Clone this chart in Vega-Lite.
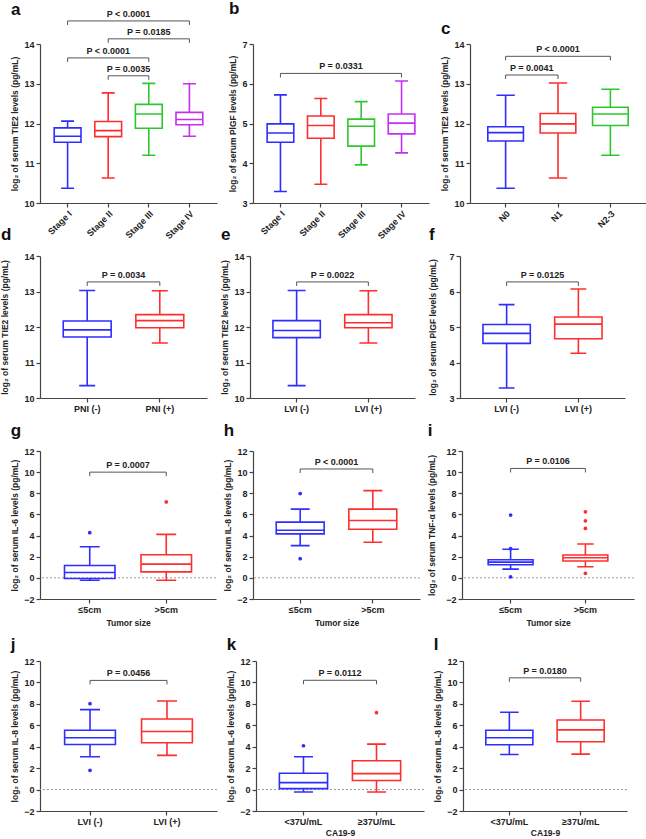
{
"$schema":"https://vega.github.io/schema/vega-lite/v6.json",
"padding":{"left":0,"top":0,"right":2,"bottom":0},
"datasets":{
"boxes":[
{"panel":"a","grp":"Stage I","min":10.37,"q1":11.53,"med":11.68,"q3":11.89,"max":12.06},
{"panel":"a","grp":"Stage II","min":10.63,"q1":11.67,"med":11.82,"q3":12.05,"max":12.77},
{"panel":"a","grp":"Stage III","min":11.2,"q1":11.88,"med":12.24,"q3":12.48,"max":13.01},
{"panel":"a","grp":"Stage IV","min":11.68,"q1":11.97,"med":12.1,"q3":12.28,"max":13.0},
{"panel":"b","grp":"Stage I","min":3.29,"q1":4.53,"med":4.76,"q3":4.99,"max":5.72},
{"panel":"b","grp":"Stage II","min":3.47,"q1":4.63,"med":4.95,"q3":5.19,"max":5.63},
{"panel":"b","grp":"Stage III","min":3.96,"q1":4.43,"med":4.93,"q3":5.11,"max":5.55},
{"panel":"b","grp":"Stage IV","min":4.26,"q1":4.74,"med":5.01,"q3":5.24,"max":6.07},
{"panel":"c","grp":"N0","min":10.37,"q1":11.56,"med":11.77,"q3":11.92,"max":12.71},
{"panel":"c","grp":"N1","min":10.63,"q1":11.76,"med":11.99,"q3":12.25,"max":13.02},
{"panel":"c","grp":"N2-3","min":11.2,"q1":11.95,"med":12.24,"q3":12.41,"max":12.86},
{"panel":"d","grp":"PNI (-)","min":10.35,"q1":11.72,"med":11.92,"q3":12.17,"max":13.03},
{"panel":"d","grp":"PNI (+)","min":11.55,"q1":11.98,"med":12.18,"q3":12.35,"max":13.02},
{"panel":"e","grp":"LVI (-)","min":10.35,"q1":11.7,"med":11.9,"q3":12.18,"max":13.03},
{"panel":"e","grp":"LVI (+)","min":11.55,"q1":11.98,"med":12.12,"q3":12.35,"max":13.02},
{"panel":"f","grp":"LVI (-)","min":3.28,"q1":4.54,"med":4.82,"q3":5.07,"max":5.63},
{"panel":"f","grp":"LVI (+)","min":4.26,"q1":4.67,"med":5.08,"q3":5.28,"max":6.07},
{"panel":"g","grp":"≤5cm","min":-0.22,"q1":-0.06,"med":0.5,"q3":1.17,"max":2.94},
{"panel":"g","grp":">5cm","min":-0.22,"q1":0.57,"med":1.3,"q3":2.18,"max":4.11},
{"panel":"h","grp":"≤5cm","min":3.05,"q1":4.16,"med":4.5,"q3":5.27,"max":6.5},
{"panel":"h","grp":">5cm","min":3.37,"q1":4.6,"med":5.43,"q3":6.5,"max":8.25},
{"panel":"i","grp":"≤5cm","min":0.83,"q1":1.24,"med":1.49,"q3":1.71,"max":2.7},
{"panel":"i","grp":">5cm","min":1.05,"q1":1.59,"med":1.9,"q3":2.16,"max":3.2},
{"panel":"j","grp":"LVI (-)","min":3.07,"q1":4.21,"med":4.83,"q3":5.54,"max":7.46},
{"panel":"j","grp":"LVI (+)","min":3.19,"q1":4.37,"med":5.42,"q3":6.59,"max":8.27},
{"panel":"k","grp":"<37U/mL","min":-0.22,"q1":0.09,"med":0.65,"q3":1.52,"max":3.07},
{"panel":"k","grp":"≥37U/mL","min":-0.22,"q1":0.84,"med":1.49,"q3":2.69,"max":4.24},
{"panel":"l","grp":"<37U/mL","min":3.28,"q1":4.18,"med":4.83,"q3":5.54,"max":7.21},
{"panel":"l","grp":"≥37U/mL","min":3.31,"q1":4.46,"med":5.57,"q3":6.5,"max":8.24}
],
"outliers":[
{"panel":"g","grp":"≤5cm","val":4.27},
{"panel":"g","grp":">5cm","val":7.18},
{"panel":"h","grp":"≤5cm","val":7.97},
{"panel":"h","grp":"≤5cm","val":1.81},
{"panel":"i","grp":"≤5cm","val":5.94},
{"panel":"i","grp":"≤5cm","val":2.76},
{"panel":"i","grp":"≤5cm","val":0.1},
{"panel":"i","grp":">5cm","val":6.25},
{"panel":"i","grp":">5cm","val":5.4},
{"panel":"i","grp":">5cm","val":4.67},
{"panel":"i","grp":">5cm","val":0.43},
{"panel":"j","grp":"LVI (-)","val":8.02},
{"panel":"j","grp":"LVI (-)","val":1.8},
{"panel":"k","grp":"<37U/mL","val":4.09},
{"panel":"k","grp":"≥37U/mL","val":7.18}
],
"brackets":[
{"panel":"a","from":"Stage I","to":"Stage IV","y":14.58,"label":"P < 0.0001"},
{"panel":"a","from":"Stage II","to":"Stage IV","y":14.13,"label":"P = 0.0185"},
{"panel":"a","from":"Stage I","to":"Stage III","y":13.65,"label":"P < 0.0001"},
{"panel":"a","from":"Stage II","to":"Stage III","y":13.2,"label":"P = 0.0035"},
{"panel":"b","from":"Stage I","to":"Stage IV","y":6.26,"label":"P = 0.0331"},
{"panel":"c","from":"N0","to":"N2-3","y":13.69,"label":"P < 0.0001"},
{"panel":"c","from":"N0","to":"N1","y":13.22,"label":"P = 0.0041"},
{"panel":"d","from":"PNI (-)","to":"PNI (+)","y":13.27,"label":"P = 0.0034"},
{"panel":"e","from":"LVI (-)","to":"LVI (+)","y":13.27,"label":"P = 0.0022"},
{"panel":"f","from":"LVI (-)","to":"LVI (+)","y":6.27,"label":"P = 0.0125"},
{"panel":"g","from":"≤5cm","to":">5cm","y":10.0,"label":"P = 0.0007"},
{"panel":"h","from":"≤5cm","to":">5cm","y":10.3,"label":"P < 0.0001"},
{"panel":"i","from":"≤5cm","to":">5cm","y":10.35,"label":"P = 0.0106"},
{"panel":"j","from":"LVI (-)","to":"LVI (+)","y":10.19,"label":"P = 0.0456"},
{"panel":"k","from":"<37U/mL","to":"≥37U/mL","y":10.2,"label":"P = 0.0112"},
{"panel":"l","from":"<37U/mL","to":"≥37U/mL","y":10.43,"label":"P = 0.0180"}
]
},
"vconcat":[
{"hconcat":[
{"width":177,"height":159,"title":{"text":"a","offset":-9},
"encoding":{"color":{"field":"grp","type":"nominal","scale":{"domain":["Stage I","Stage II","Stage III","Stage IV","N0","N1","N2-3","PNI (-)","PNI (+)","LVI (-)","LVI (+)","≤5cm",">5cm","<37U/mL","≥37U/mL"],"range":["#2e2eff","#ff2e2e","#2ec82e","#c42ef5","#2e2eff","#ff2e2e","#2ec82e","#2e2eff","#ff2e2e","#2e2eff","#ff2e2e","#2e2eff","#ff2e2e","#2e2eff","#ff2e2e"]},"legend":null}},
"layer":[
{"data":{"name":"boxes"},"transform":[{"filter":"datum.panel=='a'"}],"mark":{"type":"rule","strokeWidth":1.6},
"encoding":{"x":{"field":"grp","type":"nominal","scale":{"type":"band","domain":["Stage I","Stage II","Stage III","Stage IV"],"paddingInner":0,"paddingOuter":0.18},"axis":{"title":null,"labelAngle":-45}},
"y":{"field":"min","type":"quantitative","scale":{"domain":[10,14],"nice":false},"axis":{"title":"log₂ of serum TIE2 levels (pg/mL)","tickCount":5,"labelOverlap":false}},"y2":{"field":"q1"}}},
{"data":{"name":"boxes"},"transform":[{"filter":"datum.panel=='a'"}],"mark":{"type":"rule","strokeWidth":1.6},"encoding":{"x":{"field":"grp","type":"nominal"},"y":{"field":"q3","type":"quantitative"},"y2":{"field":"max"}}},
{"data":{"name":"boxes"},"transform":[{"filter":"datum.panel=='a'"}],"mark":{"type":"bar","filled":false,"strokeWidth":1.6,"width":{"band":0.66}},"encoding":{"x":{"field":"grp","type":"nominal"},"y":{"field":"q1","type":"quantitative"},"y2":{"field":"q3"}}},
{"data":{"name":"boxes"},"transform":[{"filter":"datum.panel=='a'"}],"mark":{"type":"bar","filled":false,"strokeWidth":1.6,"width":{"band":0.66}},"encoding":{"x":{"field":"grp","type":"nominal"},"y":{"field":"med","type":"quantitative"},"y2":{"field":"med"}}},
{"data":{"name":"boxes"},"transform":[{"filter":"datum.panel=='a'"},{"fold":["min","max"],"as":["stat","val"]}],"mark":{"type":"bar","filled":false,"strokeWidth":1.6,"width":{"band":0.32}},"encoding":{"x":{"field":"grp","type":"nominal"},"y":{"field":"val","type":"quantitative"},"y2":{"field":"val"}}},
{"data":{"name":"brackets"},"transform":[{"filter":"datum.panel=='a'"}],"mark":{"type":"rule","strokeWidth":1},"encoding":{"x":{"field":"from","type":"nominal"},"x2":{"field":"to"},"y":{"field":"y","type":"quantitative"},"color":{"value":"#555"}}},
{"data":{"name":"brackets"},"transform":[{"filter":"datum.panel=='a'"},{"fold":["from","to"],"as":["end","cat"]}],"mark":{"type":"rule","strokeWidth":1,"y2Offset":4},"encoding":{"x":{"field":"cat","type":"nominal"},"y":{"field":"y","type":"quantitative"},"y2":{"field":"y"},"color":{"value":"#555"}}},
{"data":{"name":"brackets"},"transform":[{"filter":"datum.panel=='a' && datum.from=='Stage I' && datum.to=='Stage IV'"}],"mark":{"type":"text","fontSize":9,"fontWeight":"bold","baseline":"bottom","dy":-2},"encoding":{"x":{"field":"from","type":"nominal","bandPosition":2},"y":{"field":"y","type":"quantitative"},"text":{"field":"label"},"color":{"value":"#222"}}},
{"data":{"name":"brackets"},"transform":[{"filter":"datum.panel=='a' && ((datum.from=='Stage II' && datum.to=='Stage IV') || (datum.from=='Stage I' && datum.to=='Stage III'))"}],"mark":{"type":"text","fontSize":9,"fontWeight":"bold","baseline":"bottom","dy":-2},"encoding":{"x":{"field":"from","type":"nominal","bandPosition":1.5},"y":{"field":"y","type":"quantitative"},"text":{"field":"label"},"color":{"value":"#222"}}},
{"data":{"name":"brackets"},"transform":[{"filter":"datum.panel=='a' && datum.from=='Stage II' && datum.to=='Stage III'"}],"mark":{"type":"text","fontSize":9,"fontWeight":"bold","baseline":"bottom","dy":-2},"encoding":{"x":{"field":"from","type":"nominal","bandPosition":1},"y":{"field":"y","type":"quantitative"},"text":{"field":"label"},"color":{"value":"#222"}}}
]},
{"width":176,"height":159,"title":{"text":"b","offset":22},
"encoding":{"color":{"field":"grp","type":"nominal","scale":{"domain":["Stage I","Stage II","Stage III","Stage IV","N0","N1","N2-3","PNI (-)","PNI (+)","LVI (-)","LVI (+)","≤5cm",">5cm","<37U/mL","≥37U/mL"],"range":["#2e2eff","#ff2e2e","#2ec82e","#c42ef5","#2e2eff","#ff2e2e","#2ec82e","#2e2eff","#ff2e2e","#2e2eff","#ff2e2e","#2e2eff","#ff2e2e","#2e2eff","#ff2e2e"]},"legend":null}},
"layer":[
{"data":{"name":"boxes"},"transform":[{"filter":"datum.panel=='b'"}],"mark":{"type":"rule","strokeWidth":1.6},
"encoding":{"x":{"field":"grp","type":"nominal","scale":{"type":"band","domain":["Stage I","Stage II","Stage III","Stage IV"],"paddingInner":0,"paddingOuter":0.18},"axis":{"title":null,"labelAngle":-45}},
"y":{"field":"min","type":"quantitative","scale":{"domain":[3,7],"nice":false},"axis":{"title":"log₂ of serum PlGF levels (pg/mL)","tickCount":5,"labelOverlap":false}},"y2":{"field":"q1"}}},
{"data":{"name":"boxes"},"transform":[{"filter":"datum.panel=='b'"}],"mark":{"type":"rule","strokeWidth":1.6},"encoding":{"x":{"field":"grp","type":"nominal"},"y":{"field":"q3","type":"quantitative"},"y2":{"field":"max"}}},
{"data":{"name":"boxes"},"transform":[{"filter":"datum.panel=='b'"}],"mark":{"type":"bar","filled":false,"strokeWidth":1.6,"width":{"band":0.66}},"encoding":{"x":{"field":"grp","type":"nominal"},"y":{"field":"q1","type":"quantitative"},"y2":{"field":"q3"}}},
{"data":{"name":"boxes"},"transform":[{"filter":"datum.panel=='b'"}],"mark":{"type":"bar","filled":false,"strokeWidth":1.6,"width":{"band":0.66}},"encoding":{"x":{"field":"grp","type":"nominal"},"y":{"field":"med","type":"quantitative"},"y2":{"field":"med"}}},
{"data":{"name":"boxes"},"transform":[{"filter":"datum.panel=='b'"},{"fold":["min","max"],"as":["stat","val"]}],"mark":{"type":"bar","filled":false,"strokeWidth":1.6,"width":{"band":0.32}},"encoding":{"x":{"field":"grp","type":"nominal"},"y":{"field":"val","type":"quantitative"},"y2":{"field":"val"}}},
{"data":{"name":"brackets"},"transform":[{"filter":"datum.panel=='b'"}],"mark":{"type":"rule","strokeWidth":1},"encoding":{"x":{"field":"from","type":"nominal"},"x2":{"field":"to"},"y":{"field":"y","type":"quantitative"},"color":{"value":"#555"}}},
{"data":{"name":"brackets"},"transform":[{"filter":"datum.panel=='b'"},{"fold":["from","to"],"as":["end","cat"]}],"mark":{"type":"rule","strokeWidth":1,"y2Offset":4},"encoding":{"x":{"field":"cat","type":"nominal"},"y":{"field":"y","type":"quantitative"},"y2":{"field":"y"},"color":{"value":"#555"}}},
{"data":{"name":"brackets"},"transform":[{"filter":"datum.panel=='b'"}],"mark":{"type":"text","fontSize":9,"fontWeight":"bold","baseline":"bottom","dy":-2},"encoding":{"x":{"field":"from","type":"nominal","bandPosition":2},"y":{"field":"y","type":"quantitative"},"text":{"field":"label"},"color":{"value":"#222"}}}
]},
{"width":176,"height":159,"title":{"text":"c","offset":2},
"encoding":{"color":{"field":"grp","type":"nominal","scale":{"domain":["Stage I","Stage II","Stage III","Stage IV","N0","N1","N2-3","PNI (-)","PNI (+)","LVI (-)","LVI (+)","≤5cm",">5cm","<37U/mL","≥37U/mL"],"range":["#2e2eff","#ff2e2e","#2ec82e","#c42ef5","#2e2eff","#ff2e2e","#2ec82e","#2e2eff","#ff2e2e","#2e2eff","#ff2e2e","#2e2eff","#ff2e2e","#2e2eff","#ff2e2e"]},"legend":null}},
"layer":[
{"data":{"name":"boxes"},"transform":[{"filter":"datum.panel=='c'"}],"mark":{"type":"rule","strokeWidth":1.6},
"encoding":{"x":{"field":"grp","type":"nominal","scale":{"type":"band","domain":["N0","N1","N2-3"],"paddingInner":0,"paddingOuter":0.18},"axis":{"title":null,"labelAngle":-45}},
"y":{"field":"min","type":"quantitative","scale":{"domain":[10,14],"nice":false},"axis":{"title":"log₂ of serum TIE2 levels (pg/mL)","tickCount":5,"labelOverlap":false}},"y2":{"field":"q1"}}},
{"data":{"name":"boxes"},"transform":[{"filter":"datum.panel=='c'"}],"mark":{"type":"rule","strokeWidth":1.6},"encoding":{"x":{"field":"grp","type":"nominal"},"y":{"field":"q3","type":"quantitative"},"y2":{"field":"max"}}},
{"data":{"name":"boxes"},"transform":[{"filter":"datum.panel=='c'"}],"mark":{"type":"bar","filled":false,"strokeWidth":1.6,"width":{"band":0.68}},"encoding":{"x":{"field":"grp","type":"nominal"},"y":{"field":"q1","type":"quantitative"},"y2":{"field":"q3"}}},
{"data":{"name":"boxes"},"transform":[{"filter":"datum.panel=='c'"}],"mark":{"type":"bar","filled":false,"strokeWidth":1.6,"width":{"band":0.68}},"encoding":{"x":{"field":"grp","type":"nominal"},"y":{"field":"med","type":"quantitative"},"y2":{"field":"med"}}},
{"data":{"name":"boxes"},"transform":[{"filter":"datum.panel=='c'"},{"fold":["min","max"],"as":["stat","val"]}],"mark":{"type":"bar","filled":false,"strokeWidth":1.6,"width":{"band":0.35}},"encoding":{"x":{"field":"grp","type":"nominal"},"y":{"field":"val","type":"quantitative"},"y2":{"field":"val"}}},
{"data":{"name":"brackets"},"transform":[{"filter":"datum.panel=='c'"}],"mark":{"type":"rule","strokeWidth":1},"encoding":{"x":{"field":"from","type":"nominal"},"x2":{"field":"to"},"y":{"field":"y","type":"quantitative"},"color":{"value":"#555"}}},
{"data":{"name":"brackets"},"transform":[{"filter":"datum.panel=='c'"},{"fold":["from","to"],"as":["end","cat"]}],"mark":{"type":"rule","strokeWidth":1,"y2Offset":4},"encoding":{"x":{"field":"cat","type":"nominal"},"y":{"field":"y","type":"quantitative"},"y2":{"field":"y"},"color":{"value":"#555"}}},
{"data":{"name":"brackets"},"transform":[{"filter":"datum.panel=='c' && datum.to=='N2-3'"}],"mark":{"type":"text","fontSize":9,"fontWeight":"bold","baseline":"bottom","dy":-2},"encoding":{"x":{"field":"from","type":"nominal","bandPosition":1.5},"y":{"field":"y","type":"quantitative"},"text":{"field":"label"},"color":{"value":"#222"}}},
{"data":{"name":"brackets"},"transform":[{"filter":"datum.panel=='c' && datum.to=='N1'"}],"mark":{"type":"text","fontSize":9,"fontWeight":"bold","baseline":"bottom","dy":-2},"encoding":{"x":{"field":"from","type":"nominal","bandPosition":1},"y":{"field":"y","type":"quantitative"},"text":{"field":"label"},"color":{"value":"#222"}}}
]}
],"spacing":11},
{"vconcat":[
{"hconcat":[
{"width":167,"height":142,"title":{"text":"d","offset":8},
"encoding":{"color":{"field":"grp","type":"nominal","scale":{"domain":["Stage I","Stage II","Stage III","Stage IV","N0","N1","N2-3","PNI (-)","PNI (+)","LVI (-)","LVI (+)","≤5cm",">5cm","<37U/mL","≥37U/mL"],"range":["#2e2eff","#ff2e2e","#2ec82e","#c42ef5","#2e2eff","#ff2e2e","#2ec82e","#2e2eff","#ff2e2e","#2e2eff","#ff2e2e","#2e2eff","#ff2e2e","#2e2eff","#ff2e2e"]},"legend":null}},
"layer":[
{"data":{"name":"boxes"},"transform":[{"filter":"datum.panel=='d'"}],"mark":{"type":"rule","strokeWidth":1.6},
"encoding":{"x":{"field":"grp","type":"nominal","scale":{"type":"band","domain":["PNI (-)","PNI (+)"],"paddingInner":0,"paddingOuter":0.15},"axis":{"title":null,"labelAngle":0}},
"y":{"field":"min","type":"quantitative","scale":{"domain":[10,14],"nice":false},"axis":{"title":"log₂ of serum TIE2 levels (pg/mL)","tickCount":5,"labelOverlap":false,"titlePadding":14}},"y2":{"field":"q1"}}},
{"data":{"name":"boxes"},"transform":[{"filter":"datum.panel=='d'"}],"mark":{"type":"rule","strokeWidth":1.6},"encoding":{"x":{"field":"grp","type":"nominal"},"y":{"field":"q3","type":"quantitative"},"y2":{"field":"max"}}},
{"data":{"name":"boxes"},"transform":[{"filter":"datum.panel=='d'"}],"mark":{"type":"bar","filled":false,"strokeWidth":1.6,"width":{"band":0.66}},"encoding":{"x":{"field":"grp","type":"nominal"},"y":{"field":"q1","type":"quantitative"},"y2":{"field":"q3"}}},
{"data":{"name":"boxes"},"transform":[{"filter":"datum.panel=='d'"}],"mark":{"type":"bar","filled":false,"strokeWidth":1.6,"width":{"band":0.66}},"encoding":{"x":{"field":"grp","type":"nominal"},"y":{"field":"med","type":"quantitative"},"y2":{"field":"med"}}},
{"data":{"name":"boxes"},"transform":[{"filter":"datum.panel=='d'"},{"fold":["min","max"],"as":["stat","val"]}],"mark":{"type":"bar","filled":false,"strokeWidth":1.6,"width":{"band":0.22}},"encoding":{"x":{"field":"grp","type":"nominal"},"y":{"field":"val","type":"quantitative"},"y2":{"field":"val"}}},
{"data":{"name":"brackets"},"transform":[{"filter":"datum.panel=='d'"}],"mark":{"type":"rule","strokeWidth":1},"encoding":{"x":{"field":"from","type":"nominal"},"x2":{"field":"to"},"y":{"field":"y","type":"quantitative"},"color":{"value":"#555"}}},
{"data":{"name":"brackets"},"transform":[{"filter":"datum.panel=='d'"},{"fold":["from","to"],"as":["end","cat"]}],"mark":{"type":"rule","strokeWidth":1,"y2Offset":4},"encoding":{"x":{"field":"cat","type":"nominal"},"y":{"field":"y","type":"quantitative"},"y2":{"field":"y"},"color":{"value":"#555"}}},
{"data":{"name":"brackets"},"transform":[{"filter":"datum.panel=='d'"}],"mark":{"type":"text","fontSize":9,"fontWeight":"bold","baseline":"bottom","dy":-2},"encoding":{"x":{"field":"from","type":"nominal","bandPosition":1},"y":{"field":"y","type":"quantitative"},"text":{"field":"label"},"color":{"value":"#222"}}}
]},
{"width":165,"height":142,"title":{"text":"e","offset":8},
"encoding":{"color":{"field":"grp","type":"nominal","scale":{"domain":["Stage I","Stage II","Stage III","Stage IV","N0","N1","N2-3","PNI (-)","PNI (+)","LVI (-)","LVI (+)","≤5cm",">5cm","<37U/mL","≥37U/mL"],"range":["#2e2eff","#ff2e2e","#2ec82e","#c42ef5","#2e2eff","#ff2e2e","#2ec82e","#2e2eff","#ff2e2e","#2e2eff","#ff2e2e","#2e2eff","#ff2e2e","#2e2eff","#ff2e2e"]},"legend":null}},
"layer":[
{"data":{"name":"boxes"},"transform":[{"filter":"datum.panel=='e'"}],"mark":{"type":"rule","strokeWidth":1.6},
"encoding":{"x":{"field":"grp","type":"nominal","scale":{"type":"band","domain":["LVI (-)","LVI (+)"],"paddingInner":0,"paddingOuter":0.15},"axis":{"title":null,"labelAngle":0}},
"y":{"field":"min","type":"quantitative","scale":{"domain":[10,14],"nice":false},"axis":{"title":"log₂ of serum TIE2 levels (pg/mL)","tickCount":5,"labelOverlap":false}},"y2":{"field":"q1"}}},
{"data":{"name":"boxes"},"transform":[{"filter":"datum.panel=='e'"}],"mark":{"type":"rule","strokeWidth":1.6},"encoding":{"x":{"field":"grp","type":"nominal"},"y":{"field":"q3","type":"quantitative"},"y2":{"field":"max"}}},
{"data":{"name":"boxes"},"transform":[{"filter":"datum.panel=='e'"}],"mark":{"type":"bar","filled":false,"strokeWidth":1.6,"width":{"band":0.66}},"encoding":{"x":{"field":"grp","type":"nominal"},"y":{"field":"q1","type":"quantitative"},"y2":{"field":"q3"}}},
{"data":{"name":"boxes"},"transform":[{"filter":"datum.panel=='e'"}],"mark":{"type":"bar","filled":false,"strokeWidth":1.6,"width":{"band":0.66}},"encoding":{"x":{"field":"grp","type":"nominal"},"y":{"field":"med","type":"quantitative"},"y2":{"field":"med"}}},
{"data":{"name":"boxes"},"transform":[{"filter":"datum.panel=='e'"},{"fold":["min","max"],"as":["stat","val"]}],"mark":{"type":"bar","filled":false,"strokeWidth":1.6,"width":{"band":0.25}},"encoding":{"x":{"field":"grp","type":"nominal"},"y":{"field":"val","type":"quantitative"},"y2":{"field":"val"}}},
{"data":{"name":"brackets"},"transform":[{"filter":"datum.panel=='e'"}],"mark":{"type":"rule","strokeWidth":1},"encoding":{"x":{"field":"from","type":"nominal"},"x2":{"field":"to"},"y":{"field":"y","type":"quantitative"},"color":{"value":"#555"}}},
{"data":{"name":"brackets"},"transform":[{"filter":"datum.panel=='e'"},{"fold":["from","to"],"as":["end","cat"]}],"mark":{"type":"rule","strokeWidth":1,"y2Offset":4},"encoding":{"x":{"field":"cat","type":"nominal"},"y":{"field":"y","type":"quantitative"},"y2":{"field":"y"},"color":{"value":"#555"}}},
{"data":{"name":"brackets"},"transform":[{"filter":"datum.panel=='e'"}],"mark":{"type":"text","fontSize":9,"fontWeight":"bold","baseline":"bottom","dy":-2},"encoding":{"x":{"field":"from","type":"nominal","bandPosition":1},"y":{"field":"y","type":"quantitative"},"text":{"field":"label"},"color":{"value":"#222"}}}
]},
{"width":165,"height":142,"title":{"text":"f","offset":8},
"encoding":{"color":{"field":"grp","type":"nominal","scale":{"domain":["Stage I","Stage II","Stage III","Stage IV","N0","N1","N2-3","PNI (-)","PNI (+)","LVI (-)","LVI (+)","≤5cm",">5cm","<37U/mL","≥37U/mL"],"range":["#2e2eff","#ff2e2e","#2ec82e","#c42ef5","#2e2eff","#ff2e2e","#2ec82e","#2e2eff","#ff2e2e","#2e2eff","#ff2e2e","#2e2eff","#ff2e2e","#2e2eff","#ff2e2e"]},"legend":null}},
"layer":[
{"data":{"name":"boxes"},"transform":[{"filter":"datum.panel=='f'"}],"mark":{"type":"rule","strokeWidth":1.6},
"encoding":{"x":{"field":"grp","type":"nominal","scale":{"type":"band","domain":["LVI (-)","LVI (+)"],"paddingInner":0,"paddingOuter":0.15},"axis":{"title":null,"labelAngle":0}},
"y":{"field":"min","type":"quantitative","scale":{"domain":[3,7],"nice":false},"axis":{"title":"log₂ of serum PlGF levels (pg/mL)","tickCount":5,"labelOverlap":false,"titlePadding":11}},"y2":{"field":"q1"}}},
{"data":{"name":"boxes"},"transform":[{"filter":"datum.panel=='f'"}],"mark":{"type":"rule","strokeWidth":1.6},"encoding":{"x":{"field":"grp","type":"nominal"},"y":{"field":"q3","type":"quantitative"},"y2":{"field":"max"}}},
{"data":{"name":"boxes"},"transform":[{"filter":"datum.panel=='f'"}],"mark":{"type":"bar","filled":false,"strokeWidth":1.6,"width":{"band":0.66}},"encoding":{"x":{"field":"grp","type":"nominal"},"y":{"field":"q1","type":"quantitative"},"y2":{"field":"q3"}}},
{"data":{"name":"boxes"},"transform":[{"filter":"datum.panel=='f'"}],"mark":{"type":"bar","filled":false,"strokeWidth":1.6,"width":{"band":0.66}},"encoding":{"x":{"field":"grp","type":"nominal"},"y":{"field":"med","type":"quantitative"},"y2":{"field":"med"}}},
{"data":{"name":"boxes"},"transform":[{"filter":"datum.panel=='f'"},{"fold":["min","max"],"as":["stat","val"]}],"mark":{"type":"bar","filled":false,"strokeWidth":1.6,"width":{"band":0.22}},"encoding":{"x":{"field":"grp","type":"nominal"},"y":{"field":"val","type":"quantitative"},"y2":{"field":"val"}}},
{"data":{"name":"brackets"},"transform":[{"filter":"datum.panel=='f'"}],"mark":{"type":"rule","strokeWidth":1},"encoding":{"x":{"field":"from","type":"nominal"},"x2":{"field":"to"},"y":{"field":"y","type":"quantitative"},"color":{"value":"#555"}}},
{"data":{"name":"brackets"},"transform":[{"filter":"datum.panel=='f'"},{"fold":["from","to"],"as":["end","cat"]}],"mark":{"type":"rule","strokeWidth":1,"y2Offset":4},"encoding":{"x":{"field":"cat","type":"nominal"},"y":{"field":"y","type":"quantitative"},"y2":{"field":"y"},"color":{"value":"#555"}}},
{"data":{"name":"brackets"},"transform":[{"filter":"datum.panel=='f'"}],"mark":{"type":"text","fontSize":9,"fontWeight":"bold","baseline":"bottom","dy":-2},"encoding":{"x":{"field":"from","type":"nominal","bandPosition":1},"y":{"field":"y","type":"quantitative"},"text":{"field":"label"},"color":{"value":"#222"}}}
]}
],"spacing":13},
{"hconcat":[
{"width":176,"height":148,"title":{"text":"g","offset":7.5},
"encoding":{"color":{"field":"grp","type":"nominal","scale":{"domain":["Stage I","Stage II","Stage III","Stage IV","N0","N1","N2-3","PNI (-)","PNI (+)","LVI (-)","LVI (+)","≤5cm",">5cm","<37U/mL","≥37U/mL"],"range":["#2e2eff","#ff2e2e","#2ec82e","#c42ef5","#2e2eff","#ff2e2e","#2ec82e","#2e2eff","#ff2e2e","#2e2eff","#ff2e2e","#2e2eff","#ff2e2e","#2e2eff","#ff2e2e"]},"legend":null}},
"layer":[
{"data":{"name":"brackets"},"transform":[{"filter":"datum.panel=='g'"}],"mark":{"type":"rule","strokeWidth":1,"strokeDash":[2,2]},"encoding":{"y":{"datum":0,"type":"quantitative"},"color":{"value":"#999"}}},
{"data":{"name":"boxes"},"transform":[{"filter":"datum.panel=='g'"}],"mark":{"type":"rule","strokeWidth":1.6},
"encoding":{"x":{"field":"grp","type":"nominal","scale":{"type":"band","domain":["≤5cm",">5cm"],"paddingInner":0,"paddingOuter":0.15},"axis":{"title":"Tumor size","labelAngle":0}},
"y":{"field":"min","type":"quantitative","scale":{"domain":[-2,12],"nice":false},"axis":{"title":"log₂ of serum IL-6 levels (pg/mL)","tickCount":5,"labelOverlap":false}},"y2":{"field":"q1"}}},
{"data":{"name":"boxes"},"transform":[{"filter":"datum.panel=='g'"}],"mark":{"type":"rule","strokeWidth":1.6},"encoding":{"x":{"field":"grp","type":"nominal"},"y":{"field":"q3","type":"quantitative"},"y2":{"field":"max"}}},
{"data":{"name":"boxes"},"transform":[{"filter":"datum.panel=='g'"}],"mark":{"type":"bar","filled":false,"strokeWidth":1.6,"width":{"band":0.66}},"encoding":{"x":{"field":"grp","type":"nominal"},"y":{"field":"q1","type":"quantitative"},"y2":{"field":"q3"}}},
{"data":{"name":"boxes"},"transform":[{"filter":"datum.panel=='g'"}],"mark":{"type":"bar","filled":false,"strokeWidth":1.6,"width":{"band":0.66}},"encoding":{"x":{"field":"grp","type":"nominal"},"y":{"field":"med","type":"quantitative"},"y2":{"field":"med"}}},
{"data":{"name":"boxes"},"transform":[{"filter":"datum.panel=='g'"},{"fold":["min","max"],"as":["stat","val"]}],"mark":{"type":"bar","filled":false,"strokeWidth":1.6,"width":{"band":0.26}},"encoding":{"x":{"field":"grp","type":"nominal"},"y":{"field":"val","type":"quantitative"},"y2":{"field":"val"}}},
{"data":{"name":"outliers"},"transform":[{"filter":"datum.panel=='g'"}],"mark":{"type":"circle","size":14,"opacity":1},"encoding":{"x":{"field":"grp","type":"nominal"},"y":{"field":"val","type":"quantitative"}}},
{"data":{"name":"brackets"},"transform":[{"filter":"datum.panel=='g'"}],"mark":{"type":"rule","strokeWidth":1},"encoding":{"x":{"field":"from","type":"nominal"},"x2":{"field":"to"},"y":{"field":"y","type":"quantitative"},"color":{"value":"#555"}}},
{"data":{"name":"brackets"},"transform":[{"filter":"datum.panel=='g'"},{"fold":["from","to"],"as":["end","cat"]}],"mark":{"type":"rule","strokeWidth":1,"y2Offset":4},"encoding":{"x":{"field":"cat","type":"nominal"},"y":{"field":"y","type":"quantitative"},"y2":{"field":"y"},"color":{"value":"#555"}}},
{"data":{"name":"brackets"},"transform":[{"filter":"datum.panel=='g'"}],"mark":{"type":"text","fontSize":9,"fontWeight":"bold","baseline":"bottom","dy":-2},"encoding":{"x":{"field":"from","type":"nominal","bandPosition":1},"y":{"field":"y","type":"quantitative"},"text":{"field":"label"},"color":{"value":"#222"}}}
]},
{"width":167,"height":148,"title":{"text":"h","offset":7.5},
"encoding":{"color":{"field":"grp","type":"nominal","scale":{"domain":["Stage I","Stage II","Stage III","Stage IV","N0","N1","N2-3","PNI (-)","PNI (+)","LVI (-)","LVI (+)","≤5cm",">5cm","<37U/mL","≥37U/mL"],"range":["#2e2eff","#ff2e2e","#2ec82e","#c42ef5","#2e2eff","#ff2e2e","#2ec82e","#2e2eff","#ff2e2e","#2e2eff","#ff2e2e","#2e2eff","#ff2e2e","#2e2eff","#ff2e2e"]},"legend":null}},
"layer":[
{"data":{"name":"brackets"},"transform":[{"filter":"datum.panel=='h'"}],"mark":{"type":"rule","strokeWidth":1,"strokeDash":[2,2]},"encoding":{"y":{"datum":0,"type":"quantitative"},"color":{"value":"#999"}}},
{"data":{"name":"boxes"},"transform":[{"filter":"datum.panel=='h'"}],"mark":{"type":"rule","strokeWidth":1.6},
"encoding":{"x":{"field":"grp","type":"nominal","scale":{"type":"band","domain":["≤5cm",">5cm"],"paddingInner":0,"paddingOuter":0.15},"axis":{"title":"Tumor size","labelAngle":0}},
"y":{"field":"min","type":"quantitative","scale":{"domain":[-2,12],"nice":false},"axis":{"title":"log₂ of serum IL-8 levels (pg/mL)","tickCount":5,"labelOverlap":false}},"y2":{"field":"q1"}}},
{"data":{"name":"boxes"},"transform":[{"filter":"datum.panel=='h'"}],"mark":{"type":"rule","strokeWidth":1.6},"encoding":{"x":{"field":"grp","type":"nominal"},"y":{"field":"q3","type":"quantitative"},"y2":{"field":"max"}}},
{"data":{"name":"boxes"},"transform":[{"filter":"datum.panel=='h'"}],"mark":{"type":"bar","filled":false,"strokeWidth":1.6,"width":{"band":0.66}},"encoding":{"x":{"field":"grp","type":"nominal"},"y":{"field":"q1","type":"quantitative"},"y2":{"field":"q3"}}},
{"data":{"name":"boxes"},"transform":[{"filter":"datum.panel=='h'"}],"mark":{"type":"bar","filled":false,"strokeWidth":1.6,"width":{"band":0.66}},"encoding":{"x":{"field":"grp","type":"nominal"},"y":{"field":"med","type":"quantitative"},"y2":{"field":"med"}}},
{"data":{"name":"boxes"},"transform":[{"filter":"datum.panel=='h'"},{"fold":["min","max"],"as":["stat","val"]}],"mark":{"type":"bar","filled":false,"strokeWidth":1.6,"width":{"band":0.26}},"encoding":{"x":{"field":"grp","type":"nominal"},"y":{"field":"val","type":"quantitative"},"y2":{"field":"val"}}},
{"data":{"name":"outliers"},"transform":[{"filter":"datum.panel=='h'"}],"mark":{"type":"circle","size":14,"opacity":1},"encoding":{"x":{"field":"grp","type":"nominal"},"y":{"field":"val","type":"quantitative"}}},
{"data":{"name":"brackets"},"transform":[{"filter":"datum.panel=='h'"}],"mark":{"type":"rule","strokeWidth":1},"encoding":{"x":{"field":"from","type":"nominal"},"x2":{"field":"to"},"y":{"field":"y","type":"quantitative"},"color":{"value":"#555"}}},
{"data":{"name":"brackets"},"transform":[{"filter":"datum.panel=='h'"},{"fold":["from","to"],"as":["end","cat"]}],"mark":{"type":"rule","strokeWidth":1,"y2Offset":4},"encoding":{"x":{"field":"cat","type":"nominal"},"y":{"field":"y","type":"quantitative"},"y2":{"field":"y"},"color":{"value":"#555"}}},
{"data":{"name":"brackets"},"transform":[{"filter":"datum.panel=='h'"}],"mark":{"type":"text","fontSize":9,"fontWeight":"bold","baseline":"bottom","dy":-2},"encoding":{"x":{"field":"from","type":"nominal","bandPosition":1},"y":{"field":"y","type":"quantitative"},"text":{"field":"label"},"color":{"value":"#222"}}}
]},
{"width":172,"height":148,"title":{"text":"i","offset":7.5},
"encoding":{"color":{"field":"grp","type":"nominal","scale":{"domain":["Stage I","Stage II","Stage III","Stage IV","N0","N1","N2-3","PNI (-)","PNI (+)","LVI (-)","LVI (+)","≤5cm",">5cm","<37U/mL","≥37U/mL"],"range":["#2e2eff","#ff2e2e","#2ec82e","#c42ef5","#2e2eff","#ff2e2e","#2ec82e","#2e2eff","#ff2e2e","#2e2eff","#ff2e2e","#2e2eff","#ff2e2e","#2e2eff","#ff2e2e"]},"legend":null}},
"layer":[
{"data":{"name":"brackets"},"transform":[{"filter":"datum.panel=='i'"}],"mark":{"type":"rule","strokeWidth":1,"strokeDash":[2,2]},"encoding":{"y":{"datum":0,"type":"quantitative"},"color":{"value":"#999"}}},
{"data":{"name":"boxes"},"transform":[{"filter":"datum.panel=='i'"}],"mark":{"type":"rule","strokeWidth":1.6},
"encoding":{"x":{"field":"grp","type":"nominal","scale":{"type":"band","domain":["≤5cm",">5cm"],"paddingInner":0,"paddingOuter":0.15},"axis":{"title":"Tumor size","labelAngle":0}},
"y":{"field":"min","type":"quantitative","scale":{"domain":[-2,12],"nice":false},"axis":{"title":"log₂ of serum TNF-α levels (pg/mL)","tickCount":5,"labelOverlap":false,"titlePadding":9}},"y2":{"field":"q1"}}},
{"data":{"name":"boxes"},"transform":[{"filter":"datum.panel=='i'"}],"mark":{"type":"rule","strokeWidth":1.6},"encoding":{"x":{"field":"grp","type":"nominal"},"y":{"field":"q3","type":"quantitative"},"y2":{"field":"max"}}},
{"data":{"name":"boxes"},"transform":[{"filter":"datum.panel=='i'"}],"mark":{"type":"bar","filled":false,"strokeWidth":1.6,"width":{"band":0.6}},"encoding":{"x":{"field":"grp","type":"nominal"},"y":{"field":"q1","type":"quantitative"},"y2":{"field":"q3"}}},
{"data":{"name":"boxes"},"transform":[{"filter":"datum.panel=='i'"}],"mark":{"type":"bar","filled":false,"strokeWidth":1.6,"width":{"band":0.6}},"encoding":{"x":{"field":"grp","type":"nominal"},"y":{"field":"med","type":"quantitative"},"y2":{"field":"med"}}},
{"data":{"name":"boxes"},"transform":[{"filter":"datum.panel=='i'"},{"fold":["min","max"],"as":["stat","val"]}],"mark":{"type":"bar","filled":false,"strokeWidth":1.6,"width":{"band":0.22}},"encoding":{"x":{"field":"grp","type":"nominal"},"y":{"field":"val","type":"quantitative"},"y2":{"field":"val"}}},
{"data":{"name":"outliers"},"transform":[{"filter":"datum.panel=='i'"}],"mark":{"type":"circle","size":14,"opacity":1},"encoding":{"x":{"field":"grp","type":"nominal"},"y":{"field":"val","type":"quantitative"}}},
{"data":{"name":"brackets"},"transform":[{"filter":"datum.panel=='i'"}],"mark":{"type":"rule","strokeWidth":1},"encoding":{"x":{"field":"from","type":"nominal"},"x2":{"field":"to"},"y":{"field":"y","type":"quantitative"},"color":{"value":"#555"}}},
{"data":{"name":"brackets"},"transform":[{"filter":"datum.panel=='i'"},{"fold":["from","to"],"as":["end","cat"]}],"mark":{"type":"rule","strokeWidth":1,"y2Offset":4},"encoding":{"x":{"field":"cat","type":"nominal"},"y":{"field":"y","type":"quantitative"},"y2":{"field":"y"},"color":{"value":"#555"}}},
{"data":{"name":"brackets"},"transform":[{"filter":"datum.panel=='i'"}],"mark":{"type":"text","fontSize":9,"fontWeight":"bold","baseline":"bottom","dy":-2},"encoding":{"x":{"field":"from","type":"nominal","bandPosition":1},"y":{"field":"y","type":"quantitative"},"text":{"field":"label"},"color":{"value":"#222"}}}
]}
],"spacing":6},
{"hconcat":[
{"width":177,"height":150,"title":{"text":"j","offset":3.5},
"encoding":{"color":{"field":"grp","type":"nominal","scale":{"domain":["Stage I","Stage II","Stage III","Stage IV","N0","N1","N2-3","PNI (-)","PNI (+)","LVI (-)","LVI (+)","≤5cm",">5cm","<37U/mL","≥37U/mL"],"range":["#2e2eff","#ff2e2e","#2ec82e","#c42ef5","#2e2eff","#ff2e2e","#2ec82e","#2e2eff","#ff2e2e","#2e2eff","#ff2e2e","#2e2eff","#ff2e2e","#2e2eff","#ff2e2e"]},"legend":null}},
"layer":[
{"data":{"name":"brackets"},"transform":[{"filter":"datum.panel=='j'"}],"mark":{"type":"rule","strokeWidth":1,"strokeDash":[2,2]},"encoding":{"y":{"datum":0,"type":"quantitative"},"color":{"value":"#999"}}},
{"data":{"name":"boxes"},"transform":[{"filter":"datum.panel=='j'"}],"mark":{"type":"rule","strokeWidth":1.6},
"encoding":{"x":{"field":"grp","type":"nominal","scale":{"type":"band","domain":["LVI (-)","LVI (+)"],"paddingInner":0,"paddingOuter":0.15},"axis":{"title":null,"labelAngle":0}},
"y":{"field":"min","type":"quantitative","scale":{"domain":[-2,12],"nice":false},"axis":{"title":"log₂ of serum IL-8 levels (pg/mL)","tickCount":5,"labelOverlap":false}},"y2":{"field":"q1"}}},
{"data":{"name":"boxes"},"transform":[{"filter":"datum.panel=='j'"}],"mark":{"type":"rule","strokeWidth":1.6},"encoding":{"x":{"field":"grp","type":"nominal"},"y":{"field":"q3","type":"quantitative"},"y2":{"field":"max"}}},
{"data":{"name":"boxes"},"transform":[{"filter":"datum.panel=='j'"}],"mark":{"type":"bar","filled":false,"strokeWidth":1.6,"width":{"band":0.66}},"encoding":{"x":{"field":"grp","type":"nominal"},"y":{"field":"q1","type":"quantitative"},"y2":{"field":"q3"}}},
{"data":{"name":"boxes"},"transform":[{"filter":"datum.panel=='j'"}],"mark":{"type":"bar","filled":false,"strokeWidth":1.6,"width":{"band":0.66}},"encoding":{"x":{"field":"grp","type":"nominal"},"y":{"field":"med","type":"quantitative"},"y2":{"field":"med"}}},
{"data":{"name":"boxes"},"transform":[{"filter":"datum.panel=='j'"},{"fold":["min","max"],"as":["stat","val"]}],"mark":{"type":"bar","filled":false,"strokeWidth":1.6,"width":{"band":0.26}},"encoding":{"x":{"field":"grp","type":"nominal"},"y":{"field":"val","type":"quantitative"},"y2":{"field":"val"}}},
{"data":{"name":"outliers"},"transform":[{"filter":"datum.panel=='j'"}],"mark":{"type":"circle","size":14,"opacity":1},"encoding":{"x":{"field":"grp","type":"nominal"},"y":{"field":"val","type":"quantitative"}}},
{"data":{"name":"brackets"},"transform":[{"filter":"datum.panel=='j'"}],"mark":{"type":"rule","strokeWidth":1},"encoding":{"x":{"field":"from","type":"nominal"},"x2":{"field":"to"},"y":{"field":"y","type":"quantitative"},"color":{"value":"#555"}}},
{"data":{"name":"brackets"},"transform":[{"filter":"datum.panel=='j'"},{"fold":["from","to"],"as":["end","cat"]}],"mark":{"type":"rule","strokeWidth":1,"y2Offset":4},"encoding":{"x":{"field":"cat","type":"nominal"},"y":{"field":"y","type":"quantitative"},"y2":{"field":"y"},"color":{"value":"#555"}}},
{"data":{"name":"brackets"},"transform":[{"filter":"datum.panel=='j'"}],"mark":{"type":"text","fontSize":9,"fontWeight":"bold","baseline":"bottom","dy":-2},"encoding":{"x":{"field":"from","type":"nominal","bandPosition":1},"y":{"field":"y","type":"quantitative"},"text":{"field":"label"},"color":{"value":"#222"}}}
]},
{"width":168,"height":150,"title":{"text":"k","offset":3.5},
"encoding":{"color":{"field":"grp","type":"nominal","scale":{"domain":["Stage I","Stage II","Stage III","Stage IV","N0","N1","N2-3","PNI (-)","PNI (+)","LVI (-)","LVI (+)","≤5cm",">5cm","<37U/mL","≥37U/mL"],"range":["#2e2eff","#ff2e2e","#2ec82e","#c42ef5","#2e2eff","#ff2e2e","#2ec82e","#2e2eff","#ff2e2e","#2e2eff","#ff2e2e","#2e2eff","#ff2e2e","#2e2eff","#ff2e2e"]},"legend":null}},
"layer":[
{"data":{"name":"brackets"},"transform":[{"filter":"datum.panel=='k'"}],"mark":{"type":"rule","strokeWidth":1,"strokeDash":[2,2]},"encoding":{"y":{"datum":0,"type":"quantitative"},"color":{"value":"#999"}}},
{"data":{"name":"boxes"},"transform":[{"filter":"datum.panel=='k'"}],"mark":{"type":"rule","strokeWidth":1.6},
"encoding":{"x":{"field":"grp","type":"nominal","scale":{"type":"band","domain":["<37U/mL","≥37U/mL"],"paddingInner":0,"paddingOuter":0.15},"axis":{"title":"CA19-9","labelAngle":0,"titlePadding":2}},
"y":{"field":"min","type":"quantitative","scale":{"domain":[-2,12],"nice":false},"axis":{"title":"log₂ of serum IL-6 levels (pg/mL)","tickCount":5,"labelOverlap":false}},"y2":{"field":"q1"}}},
{"data":{"name":"boxes"},"transform":[{"filter":"datum.panel=='k'"}],"mark":{"type":"rule","strokeWidth":1.6},"encoding":{"x":{"field":"grp","type":"nominal"},"y":{"field":"q3","type":"quantitative"},"y2":{"field":"max"}}},
{"data":{"name":"boxes"},"transform":[{"filter":"datum.panel=='k'"}],"mark":{"type":"bar","filled":false,"strokeWidth":1.6,"width":{"band":0.66}},"encoding":{"x":{"field":"grp","type":"nominal"},"y":{"field":"q1","type":"quantitative"},"y2":{"field":"q3"}}},
{"data":{"name":"boxes"},"transform":[{"filter":"datum.panel=='k'"}],"mark":{"type":"bar","filled":false,"strokeWidth":1.6,"width":{"band":0.66}},"encoding":{"x":{"field":"grp","type":"nominal"},"y":{"field":"med","type":"quantitative"},"y2":{"field":"med"}}},
{"data":{"name":"boxes"},"transform":[{"filter":"datum.panel=='k'"},{"fold":["min","max"],"as":["stat","val"]}],"mark":{"type":"bar","filled":false,"strokeWidth":1.6,"width":{"band":0.26}},"encoding":{"x":{"field":"grp","type":"nominal"},"y":{"field":"val","type":"quantitative"},"y2":{"field":"val"}}},
{"data":{"name":"outliers"},"transform":[{"filter":"datum.panel=='k'"}],"mark":{"type":"circle","size":14,"opacity":1},"encoding":{"x":{"field":"grp","type":"nominal"},"y":{"field":"val","type":"quantitative"}}},
{"data":{"name":"brackets"},"transform":[{"filter":"datum.panel=='k'"}],"mark":{"type":"rule","strokeWidth":1},"encoding":{"x":{"field":"from","type":"nominal"},"x2":{"field":"to"},"y":{"field":"y","type":"quantitative"},"color":{"value":"#555"}}},
{"data":{"name":"brackets"},"transform":[{"filter":"datum.panel=='k'"},{"fold":["from","to"],"as":["end","cat"]}],"mark":{"type":"rule","strokeWidth":1,"y2Offset":4},"encoding":{"x":{"field":"cat","type":"nominal"},"y":{"field":"y","type":"quantitative"},"y2":{"field":"y"},"color":{"value":"#555"}}},
{"data":{"name":"brackets"},"transform":[{"filter":"datum.panel=='k'"}],"mark":{"type":"text","fontSize":9,"fontWeight":"bold","baseline":"bottom","dy":-2},"encoding":{"x":{"field":"from","type":"nominal","bandPosition":1},"y":{"field":"y","type":"quantitative"},"text":{"field":"label"},"color":{"value":"#222"}}}
]},
{"width":164,"height":150,"title":{"text":"l","offset":3.5},
"encoding":{"color":{"field":"grp","type":"nominal","scale":{"domain":["Stage I","Stage II","Stage III","Stage IV","N0","N1","N2-3","PNI (-)","PNI (+)","LVI (-)","LVI (+)","≤5cm",">5cm","<37U/mL","≥37U/mL"],"range":["#2e2eff","#ff2e2e","#2ec82e","#c42ef5","#2e2eff","#ff2e2e","#2ec82e","#2e2eff","#ff2e2e","#2e2eff","#ff2e2e","#2e2eff","#ff2e2e","#2e2eff","#ff2e2e"]},"legend":null}},
"layer":[
{"data":{"name":"brackets"},"transform":[{"filter":"datum.panel=='l'"}],"mark":{"type":"rule","strokeWidth":1,"strokeDash":[2,2]},"encoding":{"y":{"datum":0,"type":"quantitative"},"color":{"value":"#999"}}},
{"data":{"name":"boxes"},"transform":[{"filter":"datum.panel=='l'"}],"mark":{"type":"rule","strokeWidth":1.6},
"encoding":{"x":{"field":"grp","type":"nominal","scale":{"type":"band","domain":["<37U/mL","≥37U/mL"],"paddingInner":0,"paddingOuter":0.15},"axis":{"title":"CA19-9","labelAngle":0,"titlePadding":2}},
"y":{"field":"min","type":"quantitative","scale":{"domain":[-2,12],"nice":false},"axis":{"title":"log₂ of serum IL-8 levels (pg/mL)","tickCount":5,"labelOverlap":false}},"y2":{"field":"q1"}}},
{"data":{"name":"boxes"},"transform":[{"filter":"datum.panel=='l'"}],"mark":{"type":"rule","strokeWidth":1.6},"encoding":{"x":{"field":"grp","type":"nominal"},"y":{"field":"q3","type":"quantitative"},"y2":{"field":"max"}}},
{"data":{"name":"boxes"},"transform":[{"filter":"datum.panel=='l'"}],"mark":{"type":"bar","filled":false,"strokeWidth":1.6,"width":{"band":0.66}},"encoding":{"x":{"field":"grp","type":"nominal"},"y":{"field":"q1","type":"quantitative"},"y2":{"field":"q3"}}},
{"data":{"name":"boxes"},"transform":[{"filter":"datum.panel=='l'"}],"mark":{"type":"bar","filled":false,"strokeWidth":1.6,"width":{"band":0.66}},"encoding":{"x":{"field":"grp","type":"nominal"},"y":{"field":"med","type":"quantitative"},"y2":{"field":"med"}}},
{"data":{"name":"boxes"},"transform":[{"filter":"datum.panel=='l'"},{"fold":["min","max"],"as":["stat","val"]}],"mark":{"type":"bar","filled":false,"strokeWidth":1.6,"width":{"band":0.26}},"encoding":{"x":{"field":"grp","type":"nominal"},"y":{"field":"val","type":"quantitative"},"y2":{"field":"val"}}},
{"data":{"name":"brackets"},"transform":[{"filter":"datum.panel=='l'"}],"mark":{"type":"rule","strokeWidth":1},"encoding":{"x":{"field":"from","type":"nominal"},"x2":{"field":"to"},"y":{"field":"y","type":"quantitative"},"color":{"value":"#555"}}},
{"data":{"name":"brackets"},"transform":[{"filter":"datum.panel=='l'"},{"fold":["from","to"],"as":["end","cat"]}],"mark":{"type":"rule","strokeWidth":1,"y2Offset":4},"encoding":{"x":{"field":"cat","type":"nominal"},"y":{"field":"y","type":"quantitative"},"y2":{"field":"y"},"color":{"value":"#555"}}},
{"data":{"name":"brackets"},"transform":[{"filter":"datum.panel=='l'"}],"mark":{"type":"text","fontSize":9,"fontWeight":"bold","baseline":"bottom","dy":-2},"encoding":{"x":{"field":"from","type":"nominal","bandPosition":1},"y":{"field":"y","type":"quantitative"},"text":{"field":"label"},"color":{"value":"#222"}}}
]}
],"spacing":8}
],"spacing":8}
],
"spacing":-15,
"config":{
"view":{"stroke":null},
"font":"Liberation Sans",
"axis":{"labelFont":"Liberation Sans","labelFontWeight":"bold","labelFontSize":9,"labelColor":"#222","labelOverlap":false,"titleFont":"Liberation Sans","titleFontWeight":"bold","titleFontSize":8.5,"titleColor":"#222","domainColor":"#444","tickColor":"#444","domainWidth":1.2,"tickWidth":1.2,"tickSize":4,"grid":false,"labelPadding":2,"titlePadding":4},
"axisY":{"tickCount":5},
"title":{"font":"Liberation Sans","fontSize":17,"fontWeight":"bold","anchor":"start","frame":"bounds","color":"#111","offset":8},
"text":{"font":"Liberation Sans"}
}
}
